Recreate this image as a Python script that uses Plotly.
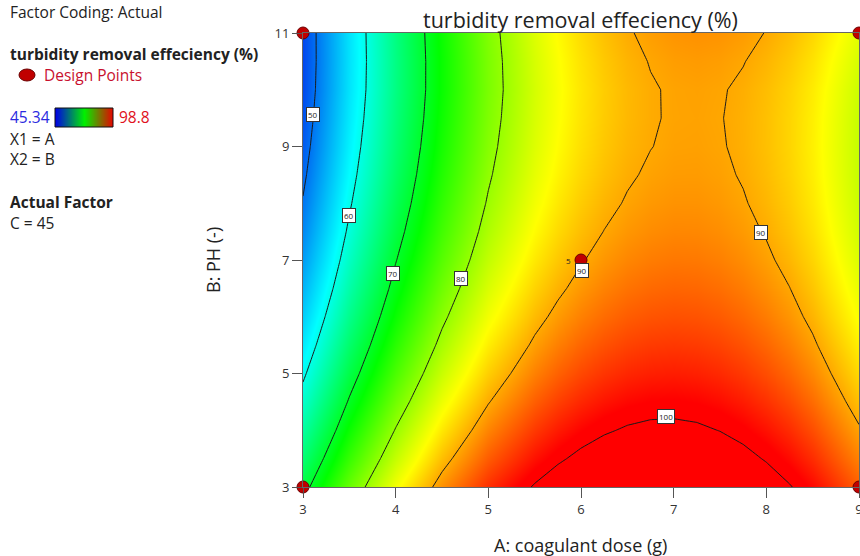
import plotly.graph_objects as go

# ---- data ---------------------------------------------------------------
# grid of factor settings (finer spacing across the high-response ridge)
coag_dose = [3, 3.5, 4, 4.5, 5, 5.5, 5.75, 6, 6.25, 6.5, 6.75,
             7, 7.25, 7.5, 7.75, 8, 8.25, 8.5, 9]                     # A (g)
ph_levels = [3, 3.5, 4, 4.5, 5, 5.5, 6, 6.5, 7, 7.5,
             8, 8.5, 9, 9.5, 10, 10.5, 11]                            # B (-)

# predicted turbidity removal efficiency (%), one row per pH level
removal = [
    [68.72, 77.44, 84.96, 91.27, 96.38, 100.29, 101.79, 102.99, 103.88, 104.48,
     104.78, 104.77, 104.46, 103.85, 102.94, 101.73, 100.22, 98.41, 93.88],   # 3
    [66.13, 74.91, 82.49, 88.87, 94.04, 98.00, 99.53, 100.76, 101.69, 102.31,
     102.64, 102.66, 102.39, 101.81, 100.93, 99.75, 98.27, 96.48, 92.01],     # 3.5
    [63.71, 72.55, 80.19, 86.63, 91.86, 95.88, 97.44, 98.70, 99.66, 100.32,
     100.67, 100.72, 100.48, 99.93, 99.08, 97.93, 96.48, 94.72, 90.31],       # 4
    [61.45, 70.36, 78.06, 84.55, 89.84, 93.93, 95.52, 96.81, 97.80, 98.48,
     98.87, 98.95, 98.74, 98.22, 97.40, 96.28, 94.86, 93.13, 88.78],          # 4.5
    [59.37, 68.33, 76.09, 82.65, 88.00, 92.14, 93.76, 95.08, 96.10, 96.82,
     97.23, 97.35, 97.16, 96.67, 95.88, 94.79, 93.40, 91.71, 87.42],          # 5
    [57.44, 66.46, 74.28, 80.90, 86.31, 90.51, 92.16, 93.51, 94.56, 95.31,
     95.76, 95.90, 95.74, 95.29, 94.53, 93.47, 92.10, 90.44, 86.21],          # 5.5
    [55.67, 64.76, 72.64, 79.32, 84.79, 89.05, 90.73, 92.11, 93.19, 93.97,
     94.44, 94.62, 94.49, 94.07, 93.34, 92.31, 90.97, 89.34, 85.17],          # 6
    [54.07, 63.21, 71.15, 77.89, 83.42, 87.75, 89.46, 90.87, 91.98, 92.78,
     93.29, 93.50, 93.40, 93.00, 92.30, 91.30, 90.05, 88.40, 84.29],          # 6.5
    [52.63, 61.83, 69.84, 76.63, 82.22, 86.61, 88.35, 89.79, 90.93, 91.77,
     92.30, 92.54, 92.47, 92.10, 91.44, 90.47, 89.19, 87.62, 83.57],          # 7
    [51.36, 60.62, 68.68, 75.54, 81.19, 85.64, 87.41, 88.88, 90.05, 90.92,
     91.48, 91.75, 91.71, 91.38, 90.74, 89.80, 88.56, 87.01, 83.02],          # 7.5
    [50.24, 59.57, 67.69, 74.61, 80.32, 84.83, 86.63, 88.13, 89.33, 90.22,
     90.82, 91.12, 91.11, 90.80, 90.19, 89.28, 88.07, 86.56, 82.63],          # 8
    [49.29, 58.68, 66.86, 73.84, 79.61, 84.18, 86.01, 87.54, 88.77, 89.70,
     90.32, 90.65, 90.67, 90.40, 89.82, 88.94, 87.76, 86.28, 82.41],          # 8.5
    [48.51, 57.96, 66.20, 73.24, 79.07, 83.70, 85.56, 87.12, 88.38, 89.34,
     89.95, 90.35, 90.40, 90.16, 89.61, 88.76, 87.61, 86.16, 82.35],          # 9
    [47.89, 57.40, 65.70, 72.80, 78.69, 83.38, 85.27, 86.86, 88.15, 89.14,
     89.82, 90.21, 90.29, 90.08, 89.56, 88.74, 87.62, 86.20, 82.45],          # 9.5
    [47.43, 57.00, 65.36, 72.52, 78.47, 83.22, 85.14, 86.76, 88.08, 89.10,
     89.82, 90.23, 90.35, 90.16, 89.67, 88.88, 87.79, 86.40, 82.72],          # 10
    [47.26, 56.89, 65.31, 72.53, 78.54, 83.35, 85.30, 86.95, 88.30, 89.35,
     90.10, 90.55, 90.69, 90.53, 90.08, 89.32, 88.26, 86.89, 83.27],          # 10.5
    [47.26, 56.95, 65.43, 72.71, 78.78, 83.65, 85.63, 87.31, 88.69, 89.77,
     90.55, 91.02, 91.20, 91.07, 90.65, 89.92, 88.89, 87.55, 83.99],          # 11
]

# observed response range shown in the colour key
resp_min, resp_max = 45.34, 98.8

# contour levels and where their labels sit (A, B)
contour_levels = [50, 60, 70, 80, 90, 90, 100]
label_pos_a = [3.11, 3.50, 3.97, 4.70, 6.01, 7.94, 6.92]
label_pos_b = [9.57, 7.79, 6.77, 6.67, 6.82, 7.48, 4.25]

# design points and replicate counts
design_a = [3, 9, 3, 9, 6]
design_b = [11, 11, 3, 3, 7]
design_reps = [1, 1, 1, 1, 5]

x_ticks = [3, 4, 5, 6, 7, 8, 9]
y_ticks = [3, 5, 7, 9, 11]

# ---- styling ------------------------------------------------------------
W, H = 860, 556
FONT = "Open Sans"
surface_scale = [
    [0.0, "rgb(0,40,235)"],
    [0.25, "rgb(0,255,255)"],
    [0.5, "rgb(0,255,0)"],
    [0.75, "rgb(255,255,0)"],
    [1.0, "rgb(255,0,0)"],
]
key_scale = [[0.0, "rgb(0,0,230)"], [0.5, "rgb(0,240,0)"], [1.0, "rgb(235,0,0)"]]


def px(x):
    return x / W


def py(y):
    return 1 - y / H


fig = go.Figure()

# smooth colour surface
fig.add_trace(go.Heatmap(
    x=coag_dose, y=ph_levels, z=removal, zsmooth="best",
    colorscale=surface_scale, zmin=resp_min, zmax=resp_max,
    showscale=False, hoverinfo="skip",
))

# contour lines
fig.add_trace(go.Contour(
    x=coag_dose, y=ph_levels, z=removal,
    contours=dict(start=50, end=100, size=10, coloring="none", showlabels=False),
    line=dict(color="#1a1a1a", width=1, smoothing=0),
    showscale=False, hoverinfo="skip",
))

# design points
fig.add_trace(go.Scatter(
    x=design_a, y=design_b, mode="markers",
    marker=dict(size=12, color="#c00000", line=dict(color="#6a0000", width=1)),
    cliponaxis=False, hoverinfo="skip",
))

# colour key swatch in the side panel
fig.add_trace(go.Heatmap(
    x=[0, 1], y=[0, 1], z=[[resp_min, resp_max], [resp_min, resp_max]],
    zsmooth="best", colorscale=key_scale, zmin=resp_min, zmax=resp_max,
    showscale=False, hoverinfo="skip", xaxis="x2", yaxis="y2",
))

annotations = []

# contour value tags
for lvl, a, b in zip(contour_levels, label_pos_a, label_pos_b):
    annotations.append(dict(
        x=a, y=b, xref="x", yref="y", text=str(lvl), showarrow=False,
        xanchor="center", yanchor="middle",
        font=dict(family=FONT, size=8, color="#222"),
        bgcolor="white", bordercolor="#333", borderwidth=1, borderpad=1,
    ))

# replicate counts beside design points
for a, b, n in zip(design_a, design_b, design_reps):
    if n > 1:
        annotations.append(dict(
            x=a, y=b, xref="x", yref="y", text=str(n), showarrow=False,
            xanchor="center", yanchor="middle",
            xshift=-13, font=dict(family=FONT, size=8, color="#222"),
        ))


def paper_text(x, y, text, size=15.5, color="#222", bold=False, anchor="left", angle=0):
    if bold:
        text = "<b>" + text + "</b>"
    annotations.append(dict(
        x=px(x), y=py(y), xref="paper", yref="paper", xanchor=anchor, yanchor="middle",
        text=text, showarrow=False, textangle=angle,
        font=dict(family=FONT, size=size, color=color),
    ))


# side panel
paper_text(8, 12, "Factor Coding: Actual")
paper_text(8, 54, "turbidity removal effeciency (%)", bold=True)
paper_text(42, 75, "Design Points", color="#c8102e")
paper_text(8, 117, f"{resp_min:g}", color="#2a2ae0")
paper_text(117, 117, f"{resp_max:g}", color="#e01020")
paper_text(8, 139, "X1 = A")
paper_text(8, 159, "X2 = B")
paper_text(8, 202, "Actual Factor", bold=True)
paper_text(8, 223, "C = 45")

# chart title and axis titles
paper_text(580, 19, "turbidity removal effeciency (%)", size=21.5, anchor="center")
paper_text(580, 545, "A: coagulant dose (g)", size=18, anchor="center")
paper_text(213, 260, "B: PH (-)", size=18, anchor="center", angle=-90)

shapes = [
    # design point marker in the side panel
    dict(type="circle", xref="paper", yref="paper",
         x0=px(19), x1=px(35), y0=py(81), y1=py(69),
         fillcolor="#c00000", line=dict(color="#6a0000", width=1)),
    # border around the colour key
    dict(type="rect", xref="paper", yref="paper",
         x0=px(55), x1=px(113), y0=py(127), y1=py(108),
         line=dict(color="#111", width=1)),
]

axis_common = dict(
    showgrid=False, zeroline=False, showline=True, linecolor="#666", linewidth=1,
    mirror=True, ticks="outside", ticklen=10, tickcolor="#555", tickwidth=1,
    ticklabeloverflow="allow",
    tickfont=dict(family=FONT, size=13, color="#333"),
)

fig.update_layout(
    width=W, height=H,
    margin=dict(l=0, r=0, t=0, b=0, autoexpand=False),
    paper_bgcolor="white", plot_bgcolor="white",
    showlegend=False,
    xaxis=dict(domain=[px(303), px(859)], range=[3, 9], tickvals=x_ticks, **axis_common),
    yaxis=dict(domain=[py(487), py(33)], range=[3, 11], tickvals=y_ticks, **axis_common),
    xaxis2=dict(domain=[px(55), px(113)], range=[0, 1], visible=False, anchor="y2"),
    yaxis2=dict(domain=[py(127), py(108)], range=[0, 1], visible=False, anchor="x2"),
    annotations=annotations,
    shapes=shapes,
)

fig.write_html("out.html")
